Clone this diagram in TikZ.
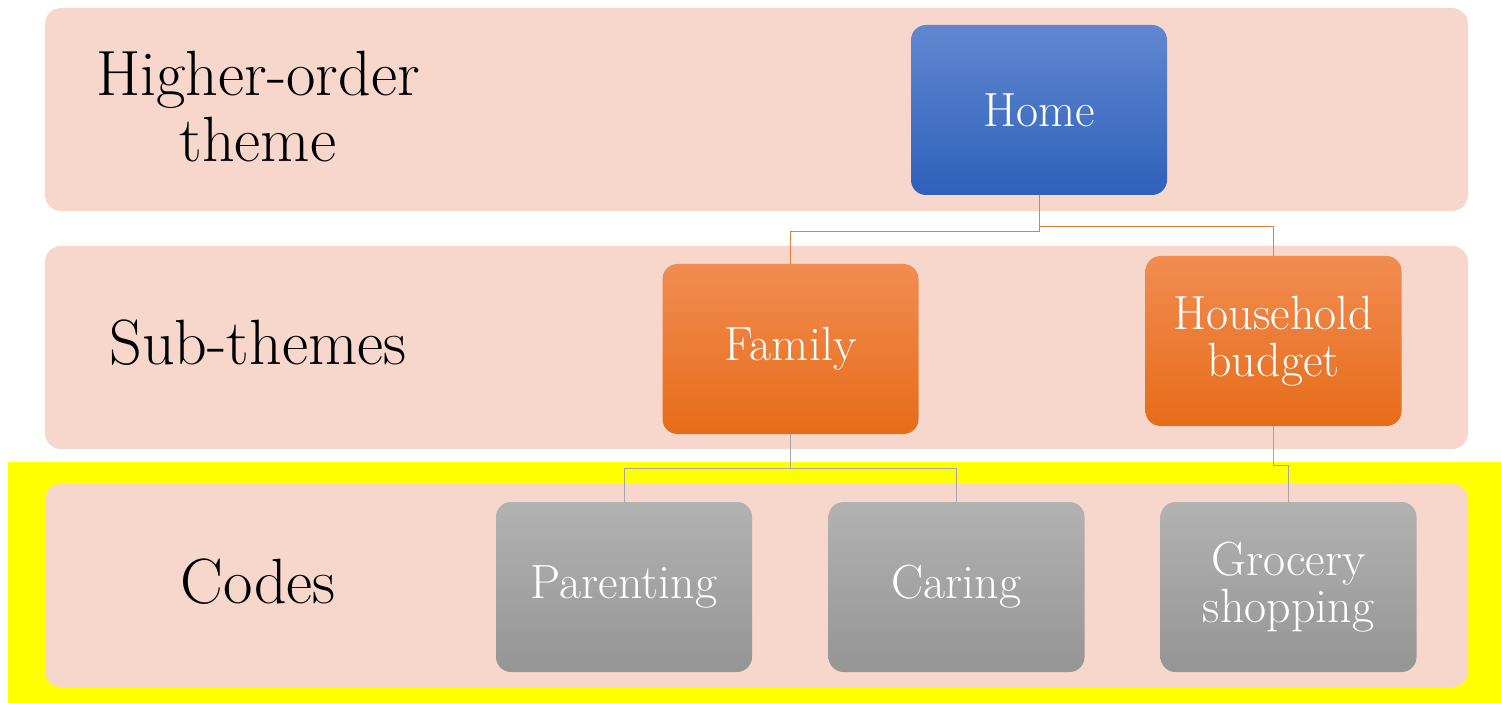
\documentclass[tikz,border=0pt]{standalone}
\usepackage{tikz}
\usetikzlibrary{positioning,calc}
\definecolor{bandpink}{HTML}{F7D7CC}
\definecolor{hiyellow}{HTML}{FFFF00}
\definecolor{blueTop}{HTML}{6187D0}
\definecolor{blueBot}{HTML}{2E61BA}
\definecolor{orangeTop}{HTML}{F28C52}
\definecolor{orangeBot}{HTML}{E66C19}
\definecolor{grayTop}{HTML}{B2B2B2}
\definecolor{grayBot}{HTML}{959595}
\definecolor{orangeLine}{HTML}{ED7D31}
\definecolor{grayLine}{HTML}{A5A5A5}

\begin{document}
\begin{tikzpicture}[x=1pt,y=-1pt,
  band/.style={fill=bandpink,rounded corners=16pt,minimum width=1423pt,minimum height=203pt,inner sep=0pt},
  bandlabel/.style={align=center,font=\fontsize{64}{66}\selectfont},
  box/.style={rounded corners=15pt,minimum width=256pt,minimum height=170pt,inner sep=0pt,
    text=white,align=center,font=\fontsize{48}{47}\selectfont},
  homebox/.style={box,top color=blueTop,bottom color=blueBot},
  subbox/.style={box,top color=orangeTop,bottom color=orangeBot},
  codebox/.style={box,top color=grayTop,bottom color=grayBot},
  link/.style={line width=1pt}]
\useasboundingbox (0,0) rectangle (1501,703);
%highlight
\fill[hiyellow] (8,462) rectangle (1501,703);
%bands
\node[band] (bandTop) at (756.5,109.5) {};
\node[band] (bandMid) at (756.5,347.5) {};
\node[band] (bandLow) at (756.5,585.5) {};
\node[bandlabel] (lblTop) at (258,107) {Higher-order\\theme};
\node[bandlabel] (lblMid) at (258,343) {Sub-themes};
\node[bandlabel] (lblLow) at (258,582) {Codes};
%boxes
\node[homebox] (home) at (1039,110) {Home};
\node[subbox] (family) at (790.5,349) {Family};
\node[subbox] (household) at (1273.5,341) {Household\\budget};
\node[codebox] (parenting) at (624,587) {Parenting};
\node[codebox] (caring) at (956.5,587) {Caring};
\node[codebox] (grocery) at (1288.5,587) {Grocery\\shopping};
%links
\draw[link,orangeLine] (home.south) -- ++(0,36) -| (family.north);
\draw[link,orangeLine] (home.south) -- ++(0,31) -| (household.north);
\draw[link,grayLine] (family.south) -- ++(0,34) -| (parenting.north);
\draw[link,grayLine] (family.south) -- ++(0,34) -| (caring.north);
\draw[link,grayLine] (household.south) -- ++(0,39) -| (grocery.north);
\end{tikzpicture}
\end{document}
